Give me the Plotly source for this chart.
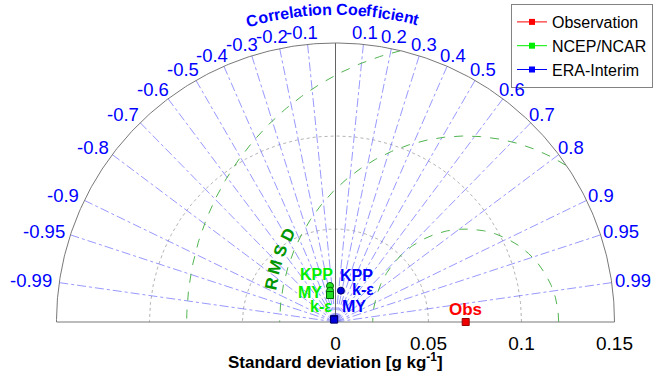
import numpy as np
import plotly.graph_objects as go

# ---------------- data ----------------
obs_std = 0.07
obs_label = "Obs"
ncep_names = ["KPP", "MY", "k-ε"]
ncep_std = [0.0196, 0.0171, 0.0148]
ncep_corr = [-0.15, -0.17, -0.20]
era_names = ["KPP", "MY", "k-ε"]
era_std = [0.0017, 0.0015, 0.0171]
era_corr = [-0.45, -0.50, 0.17]
corr_ticks = [0.1, 0.2, 0.3, 0.4, 0.5, 0.6, 0.7, 0.8, 0.9, 0.95, 0.99]
corr_tick_labels = ["0.1", "0.2", "0.3", "0.4", "0.5", "0.6", "0.7", "0.8", "0.9", "0.95", "0.99"]
std_max = 0.15
std_rings = [0.05, 0.10]
rmsd_rings = [0.05, 0.10, 0.15]
std_ticks = [0, 0.05, 0.10, 0.15]
std_tick_labels = ["0", "0.05", "0.1", "0.15"]
legend_names = ["Observation", "NCEP/NCAR", "ERA-Interim"]
corr_title = "Correlation Coefficient"
rmsd_title = "RMSD"
x_title = "<b>Standard deviation [g kg<sup>-1</sup>]</b>"

# ---------------- style ----------------
PX = 1860.0  # pixels per std unit (equal aspect)
X0, Y0 = 335.5, 322.0
W, H = 656, 374
MB = 44
FONT = "Arial, Liberation Sans, sans-serif"
BLUE = "#0000ff"
GRAY = "rgb(120,120,120)"
ncep_symbols = ["circle", "circle", "square"]
era_symbols = ["square", "square", "circle"]
ncep_label_shift = [(-14, 11), (-20, -2), (-9, -11)]
era_label_shift = [(22, 44), (20, 13), (22, 1)]


def xy(s, c):
    s = np.asarray(s, float)
    c = np.asarray(c, float)
    return s * c, s * np.sqrt(1 - c ** 2)


fig = go.Figure()
th = np.linspace(0, np.pi, 361)

# std rings
for s in std_rings:
    fig.add_trace(go.Scatter(x=s * np.cos(th), y=s * np.sin(th), mode="lines",
                             line=dict(color="rgb(180,180,180)", width=1, dash="dot"),
                             hoverinfo="skip", showlegend=False))

# correlation rays
for c in corr_ticks + [-v for v in corr_ticks]:
    x, y = xy([0, std_max], [c, c])
    fig.add_trace(go.Scatter(x=x, y=y, mode="lines",
                             line=dict(color="rgba(50,50,255,0.5)", width=1, dash="dashdot"),
                             hoverinfo="skip", showlegend=False))

# RMSD rings (clipped to the outer semicircle)
for r in rmsd_rings:
    xs = obs_std + r * np.cos(th)
    ys = r * np.sin(th)
    keep = np.hypot(xs, ys) <= std_max + 1e-9
    xs = np.where(keep, xs, np.nan)
    ys = np.where(keep, ys, np.nan)
    fig.add_trace(go.Scatter(x=xs, y=ys, mode="lines",
                             line=dict(color="rgb(80,180,80)", width=1, dash="dash"),
                             hoverinfo="skip", showlegend=False, connectgaps=False))

# outer arc, baseline, zero line
fig.add_trace(go.Scatter(x=std_max * np.cos(th), y=std_max * np.sin(th), mode="lines",
                         line=dict(color=GRAY, width=1), hoverinfo="skip", showlegend=False))
fig.add_trace(go.Scatter(x=[-std_max, std_max], y=[0, 0], mode="lines",
                         line=dict(color=GRAY, width=1), hoverinfo="skip", showlegend=False))
fig.add_trace(go.Scatter(x=[0, 0], y=[0, std_max], mode="lines",
                         line=dict(color="rgb(100,100,100)", width=1), hoverinfo="skip", showlegend=False))

# model points
nx, ny = xy(ncep_std, ncep_corr)
fig.add_trace(go.Scatter(x=nx, y=ny, mode="markers", cliponaxis=False,
                         marker=dict(color="#22e022", size=7, symbol=ncep_symbols,
                                     line=dict(color="#006600", width=1)),
                         showlegend=False))
ex, ey = xy(era_std, era_corr)
fig.add_trace(go.Scatter(x=ex, y=ey, mode="markers", cliponaxis=False,
                         marker=dict(color="#0000dd", size=7, symbol=era_symbols,
                                     line=dict(color="#000066", width=1)),
                         showlegend=False))
fig.add_trace(go.Scatter(x=[obs_std], y=[0], mode="markers", cliponaxis=False,
                         marker=dict(color="#ee0000", size=7, symbol="square",
                                     line=dict(color="#990000", width=1)),
                         showlegend=False))

# legend entries
for name, col in zip(legend_names, ["#ff0000", "#00ee00", "#0000ff"]):
    fig.add_trace(go.Scatter(x=[None], y=[None], mode="lines+markers", name=name,
                             line=dict(color=col, width=1),
                             marker=dict(color=col, size=6, symbol="square")))

ann = []
# model labels
for name, (x, y), (dx, dy) in zip(ncep_names, zip(nx, ny), ncep_label_shift):
    ann.append(dict(x=x, y=y, text="<b>%s</b>" % name, showarrow=False, xshift=dx, yshift=dy,
                    font=dict(family=FONT, size=16, color="#00ee00")))
for name, (x, y), (dx, dy) in zip(era_names, zip(ex, ey), era_label_shift):
    ann.append(dict(x=x, y=y, text="<b>%s</b>" % name, showarrow=False, xshift=dx, yshift=dy,
                    font=dict(family=FONT, size=16, color="#0000ff")))
ann.append(dict(x=obs_std, y=0, text="<b>%s</b>" % obs_label, showarrow=False, yshift=13,
                font=dict(family=FONT, size=17, color="#ff0000")))

# correlation tick labels
cw = {"0": 0.556, "1": 0.556, "2": 0.556, "3": 0.556, "4": 0.556, "5": 0.556,
      "6": 0.556, "7": 0.556, "8": 0.556, "9": 0.556, ".": 0.278, "-": 0.333}
FS = 18.5
r0 = 282 / PX
for c, lab in zip(corr_ticks, corr_tick_labels):
    for sgn in (1, -1):
        cc = sgn * c
        t = lab if sgn > 0 else "-" + lab
        w = sum(cw[ch] for ch in t) * FS
        sn = np.sqrt(1 - cc ** 2)
        x, y = xy(r0, cc)
        ann.append(dict(x=float(x), y=float(y), text=t, showarrow=False,
                        xshift=cc * w / 2 + (0 if sgn > 0 else -4), yshift=sn * 9,
                        font=dict(family=FONT, size=FS, color=BLUE)))

# curved correlation title
bw = {"C": .722, "o": .611, "r": .389, "e": .556, "l": .278, "a": .556, "t": .333,
      "i": .278, "n": .611, " ": .278, "f": .333, "c": .556}
widths = np.array([bw[ch] for ch in corr_title])
centers = np.cumsum(widths) - widths / 2
frac = (centers - centers[0]) / (centers[-1] - centers[0])
a0, a1 = np.radians(105.4), np.radians(75.1)
rt = 313 / PX
for ch, f in zip(corr_title, frac):
    if ch == " ":
        continue
    a = a0 + (a1 - a0) * f
    ann.append(dict(x=rt * np.cos(a), y=rt * np.sin(a), text="<b>%s</b>" % ch, showarrow=False,
                    textangle=90 - np.degrees(a),
                    font=dict(family=FONT, size=16, color=BLUE)))

# RMSD label along the ring
rr = 0.1065
for i, ch in enumerate(rmsd_title):
    a = np.radians(168.7 + (154.0 - 168.7) * i / (len(rmsd_title) - 1))
    ann.append(dict(x=obs_std + rr * np.cos(a), y=rr * np.sin(a), text="<b>%s</b>" % ch,
                    showarrow=False, textangle=90 - np.degrees(a),
                    font=dict(family=FONT, size=17, color="rgb(0,150,0)")))

# x-axis title
ann.append(dict(x=0, y=0, xref="x", yref="paper", yanchor="top", showarrow=False, yshift=-18,
                text=x_title, font=dict(family=FONT, size=17, color="black")))

fig.update_layout(
    width=W, height=H,
    margin=dict(l=0, r=0, t=0, b=MB),
    plot_bgcolor="white", paper_bgcolor="white",
    annotations=ann,
    xaxis=dict(range=[-X0 / PX, (W - X0) / PX], showgrid=False, zeroline=False, showline=False,
               tickvals=std_ticks, ticktext=std_tick_labels, ticks="",
               tickfont=dict(family=FONT, size=19, color="black")),
    yaxis=dict(range=[-(H - MB - Y0) / PX, Y0 / PX], visible=False),
    legend=dict(x=1 - 3 / W, xanchor="right", y=1 - 4 / (H - MB), yanchor="top",
                bgcolor="white", bordercolor="rgb(130,130,130)", borderwidth=1,
                font=dict(family=FONT, size=16, color="black"), itemwidth=30,
                tracegroupgap=0),
    showlegend=True,
)

fig.write_html("out.html")
